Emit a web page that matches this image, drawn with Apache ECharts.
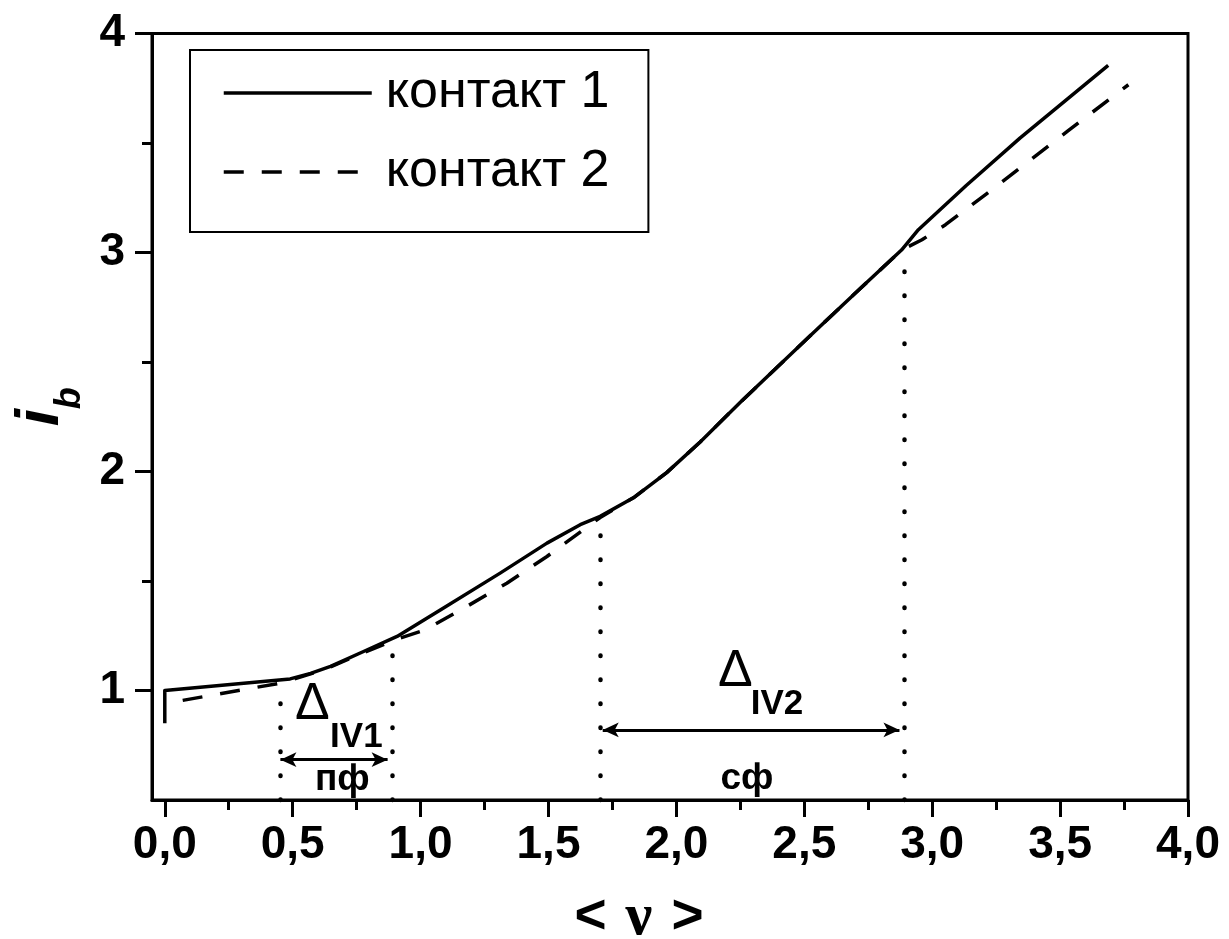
<!DOCTYPE html>
<html><head><meta charset="utf-8">
<script src="https://cdn.jsdelivr.net/npm/echarts@6/dist/echarts.min.js"></script>
<style>html,body{margin:0;padding:0;background:#fff}#c{width:1229px;height:939px}</style>
</head><body><div id="c"></div>
<script>
// ---- data ----
const seriesNames = ['контакт 1', 'контакт 2'];
const c1x = [0, 0, 0.49, 0.57, 0.648, 0.777, 0.908, 1.077, 1.311, 1.494, 1.624, 1.702, 1.832, 1.962, 2.093, 2.249, 2.523, 2.70, 2.88, 2.946, 3.132, 3.343, 3.688];
const c1y = [0.85, 1.0, 1.053, 1.078, 1.11, 1.178, 1.247, 1.368, 1.536, 1.673, 1.757, 1.795, 1.880, 1.995, 2.135, 2.315, 2.620, 2.815, 3.011, 3.104, 3.305, 3.522, 3.854];
const c2x = [0.07, 0.453, 0.5, 0.57, 0.648, 0.777, 0.9, 1.018, 1.181, 1.337, 1.494, 1.663, 1.702, 1.832, 1.962, 2.093, 2.249, 2.523, 2.70, 2.88, 2.96, 3.052, 3.211, 3.528, 3.767];
const c2y = [0.955, 1.034, 1.05, 1.076, 1.108, 1.172, 1.232, 1.277, 1.384, 1.490, 1.612, 1.757, 1.79, 1.880, 1.995, 2.135, 2.315, 2.620, 2.815, 3.011, 3.058, 3.127, 3.267, 3.553, 3.766];
const xMajorTicks = [0, 0.5, 1.0, 1.5, 2.0, 2.5, 3.0, 3.5, 4.0];
const xMinorTicks = [0.25, 0.75, 1.25, 1.75, 2.25, 2.75, 3.25, 3.75];
const yMajorTicks = [1, 2, 3, 4];
const yMinorTicks = [1.5, 2.5, 3.5];
const dropX = [0.452, 0.891, 1.702, 2.889];
const dropTop = [1.035, 1.22, 1.78, 3.0];
const arrowFrom = [0.452, 1.712];
const arrowTo = [0.871, 2.872];
const arrowY = [0.684, 0.82];
const annoText = ['Δ', 'IV1', 'пф', 'Δ', 'IV2', 'сф'];
const annoKind = ['delta', 'sub', 'word', 'delta', 'sub', 'word'];
const annoX = [0.577, 0.749, 0.694, 2.231, 2.393, 2.276];
const annoY = [0.935, 0.786, 0.592, 1.088, 0.935, 0.597];

// ---- build ----
const X_MIN = -0.05, X_MAX = 4.0, Y_MIN = 0.5, Y_MAX = 4.0;
const zip = (a, b) => a.map((v, i) => [v, b[i]]);
const kindStyle = {
  delta: { fontFamily: 'Liberation Sans', fontSize: 52, fontWeight: 'normal' },
  sub: { fontFamily: 'Liberation Sans', fontSize: 35, fontWeight: 'bold' },
  word: { fontFamily: 'Liberation Sans', fontSize: 37, fontWeight: 'bold' }
};
const fmtX = v => Number(v).toFixed(1).replace('.', ',');

const chart = echarts.init(document.getElementById('c'), null, { renderer: 'canvas' });
const baseX = { type: 'value', min: X_MIN, max: X_MAX, gridIndex: 0, splitLine: { show: false } };
const baseY = { type: 'value', min: Y_MIN, max: Y_MAX, gridIndex: 0, splitLine: { show: false } };

chart.setOption({
  animation: false,
  backgroundColor: '#fff',
  grid: { left: 152, right: 41, top: 33.5, bottom: 139, show: true, borderColor: '#000', borderWidth: 3, backgroundColor: 'transparent', containLabel: false, outerBoundsMode: 'none' },
  legend: {
    orient: 'vertical', left: 190, top: 50,
    padding: [15, 39, 32, 32], itemGap: 23, itemWidth: 148, itemHeight: 14,
    borderColor: '#000', borderWidth: 2,
    itemStyle: { opacity: 0 },
    lineStyle: { width: 3.5 },
    textStyle: { fontFamily: 'Liberation Sans', fontSize: 52, lineHeight: 56, color: '#000', padding: [0, 0, 0, 9] },
    data: seriesNames
  },
  xAxis: [
    Object.assign({}, baseX, {
      position: 'bottom',
      axisLine: { show: true, onZero: false, lineStyle: { color: '#000', width: 3 } },
      axisTick: { show: true, inside: false, length: 17, customValues: xMajorTicks, lineStyle: { color: '#000', width: 3 } },
      axisLabel: { show: true, customValues: xMajorTicks, formatter: fmtX, margin: 22, color: '#000', fontFamily: 'Liberation Sans', fontWeight: 'bold', fontSize: 46 },
      name: '{a|<}{n|ν}{a|>}', nameLocation: 'middle', nameGap: 88,
      nameTextStyle: {
        padding: [0, 62, 0, 0],
        rich: {
          a: { fontFamily: 'Liberation Sans', fontWeight: 'bold', fontSize: 55, color: '#000' },
          n: { fontFamily: 'Liberation Serif', fontWeight: 'bold', fontSize: 60, color: '#000', padding: [0, 19, 0, 19] }
        }
      }
    }),
    Object.assign({}, baseX, {
      position: 'bottom',
      axisLine: { show: false, onZero: false },
      axisTick: { show: true, inside: false, length: 10, customValues: xMinorTicks, lineStyle: { color: '#000', width: 3 } },
      axisLabel: { show: false }
    })
  ],
  yAxis: [
    Object.assign({}, baseY, {
      position: 'left',
      axisLine: { show: true, onZero: false, lineStyle: { color: '#000', width: 3 } },
      axisTick: { show: true, inside: false, length: 17, customValues: yMajorTicks, lineStyle: { color: '#000', width: 3 } },
      axisLabel: { show: true, customValues: yMajorTicks, formatter: v => String(v), margin: 27, color: '#000', fontFamily: 'Liberation Sans', fontWeight: 'bold', fontSize: 46 },
      name: '{i|i}{b|b}', nameLocation: 'middle', nameRotate: 90, nameGap: 72,
      nameTextStyle: {
        padding: [0, 0, 0, 20],
        rich: {
          i: { fontFamily: 'Liberation Sans', fontWeight: 'bold', fontStyle: 'italic', fontSize: 62, lineHeight: 60, verticalAlign: 'top', color: '#000' },
          b: { fontFamily: 'Liberation Sans', fontWeight: 'bold', fontStyle: 'italic', fontSize: 36, lineHeight: 36, verticalAlign: 'top', padding: [43, 0, 0, 0], color: '#000' }
        }
      }
    }),
    Object.assign({}, baseY, {
      position: 'left',
      axisLine: { show: false, onZero: false },
      axisTick: { show: true, inside: false, length: 10, customValues: yMinorTicks, lineStyle: { color: '#000', width: 3 } },
      axisLabel: { show: false }
    })
  ],
  series: [
    {
      name: seriesNames[0], type: 'line', xAxisIndex: 0, yAxisIndex: 0,
      data: zip(c1x, c1y), symbol: 'none', smooth: false, z: 5,
      lineStyle: { color: '#000', width: 3.5, type: 'solid', join: 'round' }, itemStyle: { color: '#000' }
    },
    {
      name: seriesNames[1], type: 'line', xAxisIndex: 0, yAxisIndex: 0,
      data: zip(c2x, c2y), symbol: 'none', smooth: false, z: 4,
      lineStyle: { color: '#000', width: 3.5, type: [20, 18], join: 'round' }, itemStyle: { color: '#000' }
    },
    {
      name: 'annotations', type: 'scatter', xAxisIndex: 0, yAxisIndex: 0,
      symbolSize: 0, silent: true, z: 6,
      itemStyle: { opacity: 1, color: '#000' },
      data: annoText.map((t, i) => ({
        value: [annoX[i], annoY[i]],
        label: Object.assign({ show: true, position: 'inside', formatter: t, color: '#000', opacity: 1, align: 'center', verticalAlign: 'middle' }, kindStyle[annoKind[i]])
      })),
      markLine: {
        silent: true, animation: false,
        label: { show: false },
        data: [].concat(
          dropX.map((x, i) => [
            { coord: [x, Y_MIN], symbol: 'none', lineStyle: { color: '#000', width: 4.5, type: [0.5, 23.5], cap: 'round', opacity: 1 } },
            { coord: [x, dropTop[i]], symbol: 'none' }
          ]),
          arrowFrom.map((x, i) => [
            { coord: [x, arrowY[i]], symbol: 'arrow', symbolSize: [11, 16], lineStyle: { color: '#000', width: 3, type: 'solid', opacity: 1 }, itemStyle: { color: '#000' } },
            { coord: [arrowTo[i], arrowY[i]], symbol: 'arrow', symbolSize: [11, 16] }
          ])
        )
      }
    }
  ]
});
</script>
</body></html>
